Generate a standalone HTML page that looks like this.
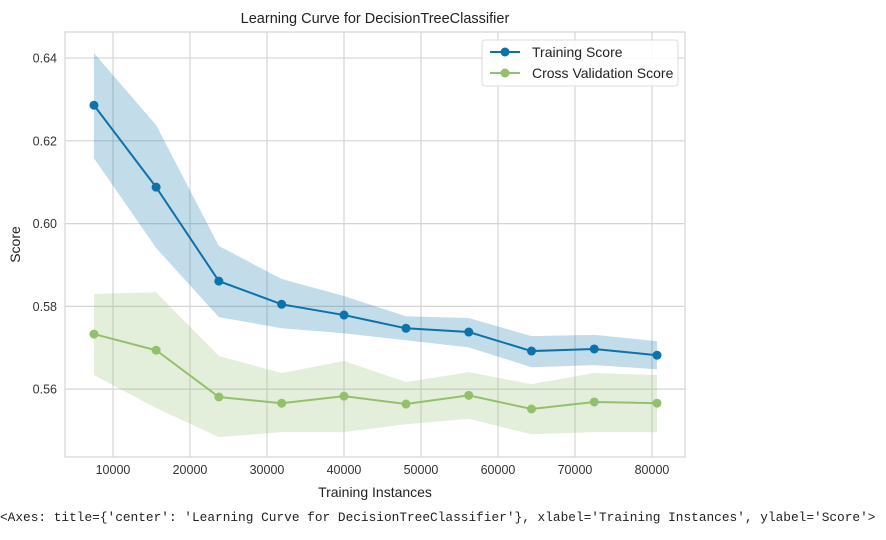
<!DOCTYPE html>
<html><head><meta charset="utf-8"><style>
body{margin:0;background:#fff;width:886px;height:540px;overflow:hidden;font-family:"Liberation Sans",sans-serif}
#foot{position:absolute;left:0;top:510px;font-family:"Liberation Mono","DejaVu Sans Mono",monospace;font-size:12.8px;color:#222;white-space:pre}
</style></head><body>
<svg id="chart" width="886" height="505" style="position:absolute;left:0;top:0"></svg>
<div id="foot">&lt;Axes: title={'center': 'Learning Curve for DecisionTreeClassifier'}, xlabel='Training Instances', ylabel='Score'&gt;</div>
<script>
const sizes=[7530,15600,23750,31900,40000,48050,56200,64350,72500,80650];
const trainMean=[0.6286,0.6088,0.5861,0.5805,0.5779,0.5747,0.5738,0.5692,0.5697,0.5682];
const trainUpper=[0.6412,0.6238,0.5946,0.5866,0.5825,0.5776,0.5772,0.5728,0.5731,0.5716];
const trainLower=[0.6158,0.5941,0.5774,0.5747,0.5735,0.5718,0.5701,0.5653,0.5658,0.5648];
const cvMean=[0.5733,0.5694,0.5581,0.5566,0.5583,0.5564,0.5585,0.5552,0.5569,0.5566];
const cvUpper=[0.5830,0.5834,0.5680,0.5639,0.5668,0.5617,0.5641,0.5612,0.5639,0.5634];
const cvLower=[0.5634,0.5554,0.5484,0.5496,0.5496,0.5515,0.5528,0.5491,0.5496,0.5496];
const xTicks=[10000,20000,30000,40000,50000,60000,70000,80000];
const yTicks=[0.56,0.58,0.60,0.62,0.64];

const L=65,R=685,T=32,B=457,x0=3766,x1=84286,y0=0.5436,y1=0.6463;
const X=v=>L+(v-x0)/(x1-x0)*(R-L);
const Y=v=>B-(v-y0)/(y1-y0)*(B-T);
const svg=document.getElementById('chart');
const NS='http://www.w3.org/2000/svg';
function mk(tag,attrs,parent){const e=document.createElementNS(NS,tag);for(const k in attrs)e.setAttribute(k,attrs[k]);(parent||svg).appendChild(e);return e;}

let e=mk('rect',{x:L,y:T,width:R-L,height:B-T,fill:'#fff',stroke:'#ccc','stroke-width':1});


xTicks.forEach(t=>{
  let g=mk('line',{x1:X(t),x2:X(t),y1:T,y2:B,stroke:'#d5d5d5','stroke-width':1.2});
  
  
  let l=mk('text',{x:X(t),y:B+17,'text-anchor':'middle','font-size':12.5,fill:'#333'});
  l.textContent=t;
  
  
});
yTicks.forEach(t=>{
  let g=mk('line',{x1:L,x2:R,y1:Y(t),y2:Y(t),stroke:'#d5d5d5','stroke-width':1.2});
  
  
  let l=mk('text',{x:L-8,y:Y(t)+4.5,'text-anchor':'end','font-size':12.5,fill:'#333'});
  l.textContent=t.toFixed(2);
  
  
});
function band(up,lo,color,name){
  let d='M'+sizes.map((s,i)=>X(s)+','+Y(up[i])).join('L')+'L'+sizes.map((s,i)=>X(s)+','+Y(lo[i])).reverse().join('L')+'Z';
  let p=mk('path',{d:d,fill:color,'fill-opacity':0.25,stroke:'none'});
  
  
}
function series(m,color,name){
  let p=mk('polyline',{points:sizes.map((s,i)=>X(s)+','+Y(m[i])).join(' '),fill:'none',stroke:color,'stroke-width':2});
  
  
  sizes.forEach((s,i)=>{
    let c=mk('circle',{cx:X(s),cy:Y(m[i]),r:4.5,fill:color});
    
    
  });
}
const tc='#0b72aa',cc='#94c06e';
band(trainUpper,trainLower,tc,'training-score-band');
band(cvUpper,cvLower,cc,'cv-score-band');
series(trainMean,tc,'training-score');
series(cvMean,cc,'cv-score');

let t=mk('text',{x:(L+R)/2,y:23,'text-anchor':'middle','font-size':14.5,fill:'#222'});
t.textContent='Learning Curve for DecisionTreeClassifier';


t=mk('text',{x:(L+R)/2,y:497,'text-anchor':'middle','font-size':14,fill:'#222'});
t.textContent='Training Instances';


t=mk('text',{x:20,y:(T+B)/2,'text-anchor':'middle','font-size':14,fill:'#222',transform:'rotate(-90 20 '+(T+B)/2+')'});
t.textContent='Score';



let lg=mk('g',{});


mk('rect',{x:482,y:40,width:196,height:46,rx:3,fill:'#fff','fill-opacity':0.85,stroke:'#ddd'},lg);
[['Training Score',tc,52],['Cross Validation Score',cc,73]].forEach(([n,c,y])=>{
  let en=mk('g',{},lg);
  
  
  mk('line',{x1:490,x2:520,y1:y,y2:y,stroke:c,'stroke-width':2},en);
  mk('circle',{cx:505,cy:y,r:4.5,fill:c},en);
  let tx=mk('text',{x:532,y:y+5,'font-size':14,fill:'#222'},en);
  tx.textContent=n;
});
</script>
</body></html>
